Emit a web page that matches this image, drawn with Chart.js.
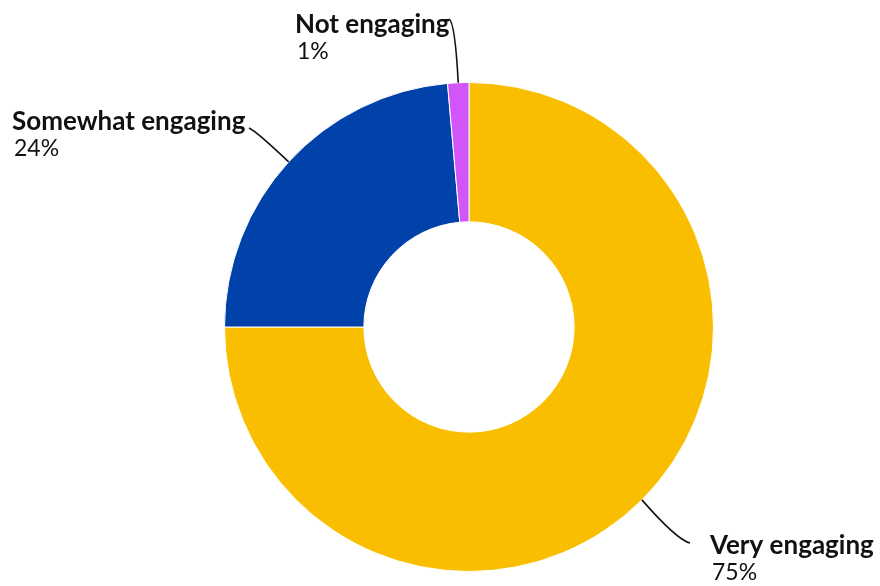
<!DOCTYPE html>
<html>
<head>
<meta charset="utf-8">
<script src="https://cdn.jsdelivr.net/npm/chart.js@4"></script>
<style>
  html, body { margin: 0; padding: 0; background: #fff; }
  #wrap { width: 880px; height: 586px; position: relative; }
</style>
</head>
<body>
<div id="wrap"><canvas id="chart-area"></canvas></div>
<script>
'use strict';

// data
var categories = ['Very engaging', 'Somewhat engaging', 'Not engaging'];
var shares = [75, 23.6, 1.4];
var shareLabels = ['75%', '24%', '1%'];
var sliceColours = ['rgb(249, 190, 0)', 'rgb(0, 65, 170)', 'rgb(210, 85, 250)'];

// where each label sits (baseline of first line) and where its leader line ends
var labelSpots = [
	{ x: 710, y: 554, endX: 690, endY: 543, bendX: 677, bendY: 540 },
	{ x: 12, y: 130, endX: 249, endY: 128, bendX: 256, bendY: 131 },
	{ x: 295, y: 33, endX: 449, endY: 19, bendX: 455, bendY: 22 }
];

var fontFam = 'Lato, "Open Sans", sans-serif';

// draws the outside labels with their leader lines
var calloutPlugin = {
	id: 'callouts',
	afterDatasetsDraw: function(chart) {
		var ctx = chart.ctx;
		var arcs = chart.getDatasetMeta(0).data;
		ctx.save();
		arcs.forEach(function(arc, i) {
			var p = arc.getProps(['x', 'y', 'startAngle', 'endAngle', 'outerRadius'], true);
			var mid = (p.startAngle + p.endAngle) / 2;
			var sx = p.x + Math.cos(mid) * p.outerRadius;
			var sy = p.y + Math.sin(mid) * p.outerRadius;
			var spot = labelSpots[i];

			ctx.strokeStyle = '#111';
			ctx.lineWidth = 1.6;
			ctx.beginPath();
			ctx.moveTo(sx, sy);
			ctx.quadraticCurveTo(spot.bendX, spot.bendY, spot.endX, spot.endY);
			ctx.stroke();

			ctx.fillStyle = '#111';
			ctx.textAlign = 'left';
			ctx.textBaseline = 'alphabetic';
			ctx.font = 'bold 26px ' + fontFam;
			ctx.fillText(categories[i], spot.x, spot.y);
			ctx.font = '23px ' + fontFam;
			ctx.fillText(shareLabels[i], spot.x + 2, spot.y + 26);
		});
		ctx.restore();
	}
};

var config = {
	type: 'doughnut',
	data: {
		labels: categories,
		datasets: [{
			data: shares,
			backgroundColor: sliceColours,
			borderColor: '#fff',
			borderWidth: 1
		}]
	},
	options: {
		responsive: true,
		maintainAspectRatio: false,
		animation: false,
		cutout: '43%',
		layout: { padding: { top: 82, bottom: 14, left: 100, right: 42 } },
		plugins: {
			legend: { display: false },
			tooltip: { enabled: false }
		}
	},
	plugins: [calloutPlugin]
};

var ctx = document.getElementById('chart-area').getContext('2d');
window.myPie = new Chart(ctx, config);
</script>
</body>
</html>
